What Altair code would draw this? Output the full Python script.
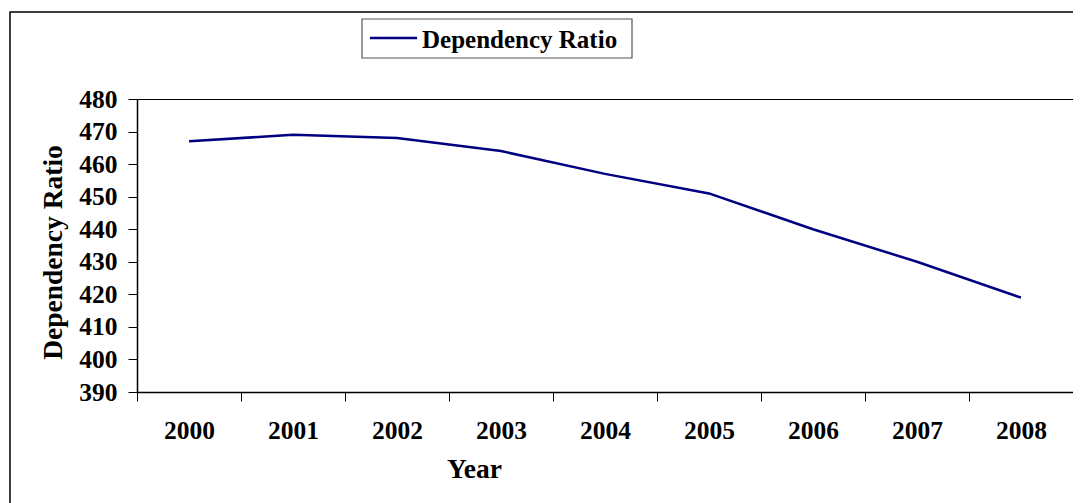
import altair as alt
import pandas as pd

years = ["2000", "2001", "2002", "2003", "2004", "2005", "2006", "2007", "2008"]
ratio = [467, 469, 468, 464, 457, 451, 440, 430, 419]
series = ["Dependency Ratio"] * len(years)
y_ticks = [390, 400, 410, 420, 430, 440, 450, 460, 470, 480]

LINE_COLOR = "#000080"
FONT = "Liberation Serif"

df = pd.DataFrame({"Year": years, "Ratio": ratio, "Series": series})
one = pd.DataFrame({"Series": [series[0]]})

# outer chart frame (decoration)
frame = alt.Chart(one).mark_rect(
    filled=False, stroke="black", strokeWidth=1.5
).encode(
    x=alt.value(-127), x2=alt.value(3000), y=alt.value(-87), y2=alt.value(3000)
)

# legend box (decoration)
leg_box = alt.Chart(one).mark_rect(
    fill="white", stroke="#555555", strokeWidth=1.2
).encode(
    x=alt.value(225), x2=alt.value(495), y=alt.value(-80), y2=alt.value(-41)
)
leg_sym = alt.Chart(one).mark_rule(color=LINE_COLOR, strokeWidth=2.5).encode(
    x=alt.value(233), x2=alt.value(280), y=alt.value(-61)
)
leg_txt = alt.Chart(one).mark_text(
    align="left", baseline="alphabetic", font=FONT, fontSize=25,
    fontWeight="bold", color="black"
).encode(
    x=alt.value(285), y=alt.value(-51), text="Series:N"
)

line = alt.Chart(df).mark_line(strokeWidth=2.5, color=LINE_COLOR).encode(
    x=alt.X(
        "Year:O",
        sort=years,
        scale=alt.Scale(type="band", paddingInner=0, paddingOuter=0),
        axis=alt.Axis(
            title="Year",
            tickBand="extent",
            labelAngle=0,
            tickSize=9,
            labelPadding=17,
            titleX=337,
            titleY=85,
            titleAlign="center",
            titleBaseline="alphabetic",
        ),
    ),
    y=alt.Y(
        "Ratio:Q",
        scale=alt.Scale(domain=[390, 480], nice=False, zero=False),
        axis=alt.Axis(
            title="Dependency Ratio",
            values=y_ticks,
            tickSize=9,
            labelPadding=11,
            titleX=-84,
            titleY=153,
            titleAlign="center",
            titleBaseline="middle",
            titleAngle=270,
        ),
    ),
)

chart = alt.layer(frame, leg_box, leg_sym, leg_txt, line).properties(
    width=936,
    height=293,
    autosize=alt.AutoSizeParams(type="none"),
    padding={"left": 129, "top": 91, "right": 0, "bottom": 111},
    background="white",
).configure_view(
    stroke="black", strokeWidth=1
).configure_axis(
    grid=False,
    domainColor="black",
    domainWidth=1.5,
    tickColor="black",
    tickWidth=1,
    labelFont=FONT,
    labelFontSize=25.5,
    labelFontWeight="bold",
    labelColor="black",
    titleFont=FONT,
    titleFontSize=27.5,
    titleFontWeight="bold",
    titleColor="black",
)

chart.save("out.html", embed_options={"renderer": "svg", "actions": False})
